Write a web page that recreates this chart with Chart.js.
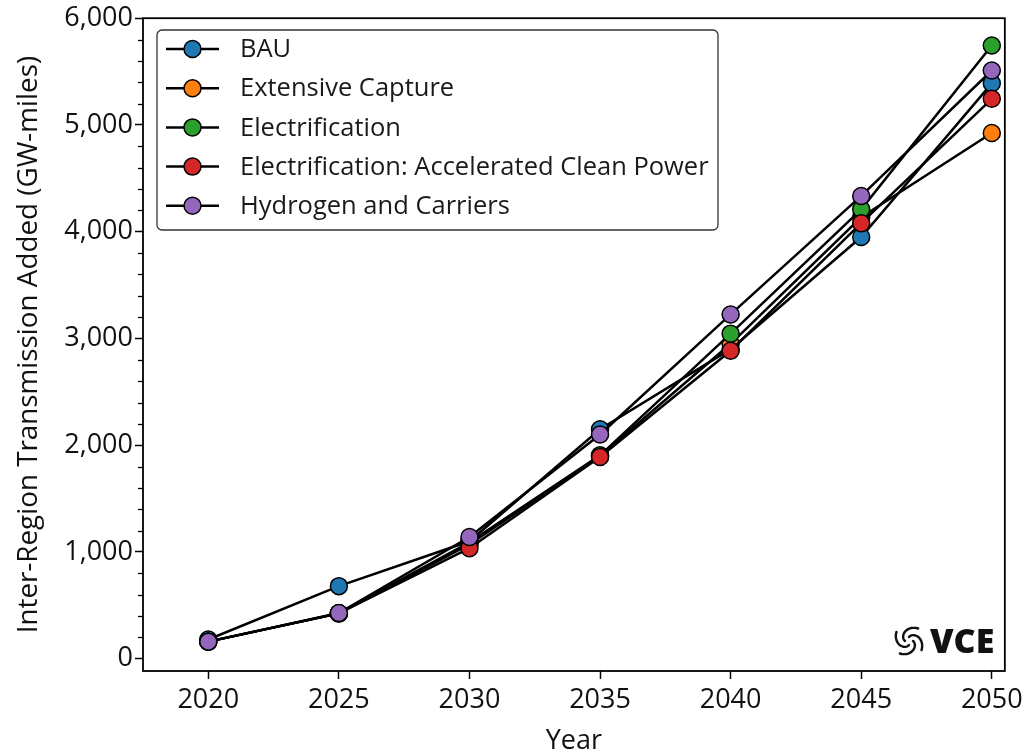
<!DOCTYPE html>
<html>
<head>
<meta charset="utf-8">
<script src="https://cdn.jsdelivr.net/npm/chart.js@4/dist/chart.umd.min.js"></script>
<style>
  html, body { margin: 0; padding: 0; background: #ffffff; }
  #wrap { width: 1028px; height: 752px; }
</style>
</head>
<body>
<div id="wrap"><canvas id="chart" width="1028" height="752"></canvas></div>
<script>
// Inter-region transmission added by scenario (GW-miles)
const years = [2020, 2025, 2030, 2035, 2040, 2045, 2050];
const scenarioNames = [
  'BAU',
  'Extensive Capture',
  'Electrification',
  'Electrification: Accelerated Clean Power',
  'Hydrogen and Carriers'
];
const bau                = [180, 680, 1100, 2150, 2900, 3950, 5390];
const extensiveCapture   = [160, 425, 1070, 1900, 2950, 4135, 4925];
const electrification    = [160, 425, 1090, 1905, 3045, 4210, 5745];
const electrificationACP = [160, 425, 1035, 1890, 2885, 4080, 5245];
const hydrogenCarriers   = [160, 428, 1140, 2100, 3225, 4335, 5510];
const scenarioColors = ['#1f77b4', '#ff7f0e', '#2ca02c', '#d62728', '#9467bd'];
const yMajorTicks = [0, 1000, 2000, 3000, 4000, 5000, 6000];
const yMinorStep = 200;

const seriesValues = [bau, extensiveCapture, electrification, electrificationACP, hydrogenCarriers];
const FONT = "'Open Sans', 'Noto Sans', 'DejaVu Sans', sans-serif";

const datasets = seriesValues.map((vals, i) => ({
  label: scenarioNames[i],
  data: years.map((yr, j) => ({ x: yr, y: vals[j] })),
  borderColor: '#000000',
  borderWidth: 2.5,
  pointBackgroundColor: scenarioColors[i],
  pointBorderColor: '#000000',
  pointBorderWidth: 1.5,
  pointRadius: 8.5,
  pointHoverRadius: 8.5,
  tension: 0,
  fill: false,
  // later scenarios are drawn on top
  order: seriesValues.length - i
}));

// Frame, minor ticks, legend box and logo
const decorations = {
  id: 'decorations',
  afterDatasetsDraw(chart) {
    const { ctx, chartArea: a, scales } = chart;
    const ys = scales.y;
    ctx.save();

    // minor ticks on the value axis
    ctx.strokeStyle = '#000';
    ctx.lineWidth = 1.3;
    for (let v = 0; v <= 6000; v += yMinorStep) {
      if (v % 1000 === 0) continue;
      const py = Math.round(ys.getPixelForValue(v)) + 0.5;
      ctx.beginPath();
      ctx.moveTo(a.left - 5, py);
      ctx.lineTo(a.left, py);
      ctx.stroke();
    }

    // frame
    ctx.lineWidth = 1.8;
    ctx.strokeStyle = '#000';
    ctx.strokeRect(a.left, a.top, a.right - a.left, a.bottom - a.top);

    // legend
    const lx = 157, ly = 30, lw = 561, lh = 200, r = 5;
    ctx.beginPath();
    ctx.moveTo(lx + r, ly);
    ctx.arcTo(lx + lw, ly, lx + lw, ly + lh, r);
    ctx.arcTo(lx + lw, ly + lh, lx, ly + lh, r);
    ctx.arcTo(lx, ly + lh, lx, ly, r);
    ctx.arcTo(lx, ly, lx + lw, ly, r);
    ctx.closePath();
    ctx.fillStyle = 'rgba(255,255,255,0.9)';
    ctx.fill();
    ctx.lineWidth = 1.3;
    ctx.strokeStyle = '#333';
    ctx.stroke();

    ctx.font = '25.5px ' + FONT;
    ctx.textBaseline = 'middle';
    ctx.textAlign = 'left';
    scenarioNames.forEach((name, i) => {
      const ry = 49 + i * 39.2;
      ctx.beginPath();
      ctx.moveTo(166, ry);
      ctx.lineTo(219, ry);
      ctx.strokeStyle = '#000';
      ctx.lineWidth = 2.5;
      ctx.stroke();
      ctx.beginPath();
      ctx.arc(192.5, ry, 8.5, 0, Math.PI * 2);
      ctx.fillStyle = scenarioColors[i];
      ctx.fill();
      ctx.lineWidth = 1.5;
      ctx.stroke();
      ctx.fillStyle = '#1a1a1a';
      ctx.fillText(name, 240, ry + 1);
    });

    // VCE logo
    const cx = 909, cy = 641;
    ctx.strokeStyle = '#111';
    ctx.lineCap = 'round';
    for (let k = 0; k < 4; k++) {
      const base = k * Math.PI / 2;
      ctx.beginPath();
      for (let t = 0; t <= 1.0001; t += 0.05) {
        const ang = base + t * 2.2;
        const rad = 4 + t * 11.5;
        const px = cx + Math.cos(ang) * rad;
        const py = cy + Math.sin(ang) * rad;
        if (t === 0) ctx.moveTo(px, py); else ctx.lineTo(px, py);
      }
      ctx.lineWidth = 2.4;
      ctx.stroke();
    }
    ctx.fillStyle = '#111';
    ctx.font = '800 34px ' + FONT;
    ctx.textBaseline = 'middle';
    ctx.fillText('VCE', 930, 643);

    ctx.restore();
  }
};

new Chart(document.getElementById('chart'), {
  type: 'line',
  data: { datasets },
  options: {
    responsive: false,
    animation: false,
    events: [],
    layout: { padding: { left: 0, right: 22, top: 18, bottom: 0 } },
    plugins: { legend: { display: false }, tooltip: { enabled: false } },
    scales: {
      x: {
        type: 'linear',
        min: 2017.5,
        max: 2050.5,
        afterBuildTicks: s => { s.ticks = years.map(v => ({ value: v })); },
        afterFit: s => { s.height = 81; },
        grid: { drawOnChartArea: false, drawTicks: true, tickLength: 8, tickWidth: 1.5, tickColor: '#000' },
        border: { display: false },
        ticks: {
          color: '#111', padding: 5, maxRotation: 0, autoSkip: false,
          font: { family: FONT, size: 27 },
          callback: v => String(v)
        },
        title: {
          display: true, text: 'Year', color: '#111',
          font: { family: FONT, size: 27 },
          padding: { top: 0, bottom: -6 }
        }
      },
      y: {
        type: 'linear',
        min: -115,
        max: 6000,
        afterBuildTicks: s => { s.ticks = yMajorTicks.map(v => ({ value: v })); },
        afterFit: s => { s.width = 143; },
        grid: { drawOnChartArea: false, drawTicks: true, tickLength: 8, tickWidth: 1.5, tickColor: '#000' },
        border: { display: false },
        ticks: {
          color: '#111', padding: 2, autoSkip: false,
          font: { family: FONT, size: 27 },
          callback: v => v.toLocaleString('en-US')
        },
        title: {
          display: true, text: 'Inter-Region Transmission Added (GW-miles)', color: '#111',
          font: { family: FONT, size: 27.8 },
          padding: { top: 12, bottom: 0 }
        }
      }
    }
  },
  plugins: [decorations]
});
</script>
</body>
</html>
